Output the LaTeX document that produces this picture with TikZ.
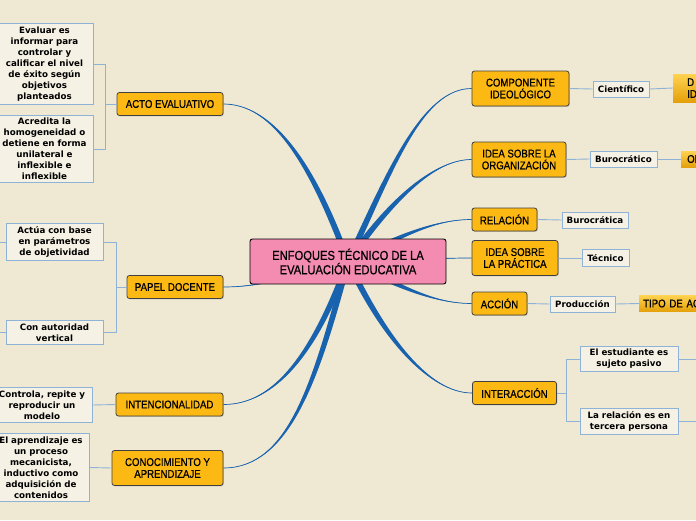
\documentclass[tikz,border=0pt]{standalone}
\usepackage{fontspec}
\setmainfont{DejaVu Sans}
\newfontfamily\headfont[FakeStretch=0.86,FakeBold=0.6]{Liberation Sans}
\usetikzlibrary{calc,shadows,backgrounds}

\definecolor{paper}{RGB}{239,233,212}
\definecolor{rootpink}{RGB}{244,139,176}
\definecolor{topicgold}{RGB}{253,185,19}
\definecolor{branchblue}{RGB}{24,98,174}
\definecolor{leafline}{RGB}{143,179,214}
\definecolor{leaffill}{RGB}{245,241,228}
\definecolor{subtop}{RGB}{255,210,80}
\definecolor{subbottom}{RGB}{228,160,10}

% tapered main branch: from, to, out, in, out looseness, in looseness
\newcommand\branch[6]{%
  \fill[branchblue] ($(#1)+({#3+90}:3)$) to[out=#3,in=#4,out looseness=#5,in looseness=#6] (#2)
    to[out=#4,in=#3,out looseness=#6,in looseness=#5] ($(#1)+({#3-90}:3)$) -- cycle;
  \draw[branchblue,line width=0.7] (#1) to[out=#3,in=#4,out looseness=#5,in looseness=#6] (#2);}

\tikzset{
  root/.style={draw=black, line width=0.9, fill=rootpink, rounded corners=2.5,
    minimum width=196, minimum height=45, align=center,
    font=\headfont\fontsize{13}{14.3}\selectfont},
  topic/.style={draw=black!75, line width=0.8, fill=topicgold, rounded corners=2.5,
    minimum height=23, inner xsep=3, inner ysep=2, align=center,
    font=\headfont\fontsize{11.2}{11.8}\selectfont,
    drop shadow={shadow xshift=0.8pt, shadow yshift=-0.8pt, opacity=0.35}},
  leaf/.style={draw=leafline, line width=0.9, fill=leaffill, inner xsep=2, inner ysep=3,
    align=center, font=\bfseries\fontsize{8.7}{11}\selectfont},
  sub/.style={top color=subtop, bottom color=subbottom, anchor=west, align=left,
    font=\headfont\fontsize{11.2}{11.8}\selectfont,
    drop shadow={shadow xshift=0.8pt, shadow yshift=-0.8pt, opacity=0.25}},
  link/.style={draw=leafline, line width=0.9},
}

\begin{document}
\begin{tikzpicture}[x=1pt,y=1pt]
  \useasboundingbox (0,0) rectangle (696,-520);

  % center and topics
  \node[root] (root) at (348,-261.5) {ENFOQUES TÉCNICO DE LA\\EVALUACIÓN EDUCATIVA};

  \node[topic, minimum width=106] (acto) at (170,-104) {ACTO EVALUATIVO};
  \node[topic, minimum width=96] (papel) at (175,-287) {PAPEL DOCENTE};
  \node[topic, minimum width=107] (intencion) at (169.5,-404.5) {INTENCIONALIDAD};
  \node[topic, minimum width=111, minimum height=35] (conocim) at (167.5,-468) {CONOCIMIENTO Y\\APRENDIZAJE};

  \node[topic, minimum width=97, minimum height=35] (compon) at (520.5,-88.5) {COMPONENTE\\IDEOLÓGICO};
  \node[topic, minimum width=94, minimum height=35] (organiz) at (519,-159.5) {IDEA SOBRE LA\\ORGANIZACIÓN};
  \node[topic, minimum width=65] (relacion) at (504.5,-219.5) {RELACIÓN};
  \node[topic, minimum width=86, minimum height=35] (practica) at (515,-258) {IDEA SOBRE\\LA PRÁCTICA};
  \node[topic, minimum width=55] (accion) at (499.5,-303.5) {ACCIÓN};
  \node[topic, minimum width=84] (interac) at (514.5,-393) {INTERACCIÓN};

  % leaves, left side
  \node[leaf, text width=93] (evaluar) at (44.5,-64) {Evaluar es\\informar para\\controlar y\\calificar el nivel\\de éxito según\\objetivos\\planteados};
  \node[leaf, text width=93] (acredita) at (44.5,-149) {Acredita la\\homogeneidad o\\detiene en forma\\unilateral e\\inflexible e\\inflexible};
  \node[leaf, text width=93] (actua) at (54.5,-242) {Actúa con base\\en parámetros\\de objetividad};
  \node[leaf, text width=93] (autoridad) at (54.5,-332.5) {Con autoridad\\vertical};
  \node[leaf, text width=96] (controla) at (42,-405) {Controla, repite y\\reproducir un\\modelo};
  \node[leaf, text width=92] (aprende) at (41,-467.5) {El aprendizaje es\\un proceso\\mecanicista,\\inductivo como\\adquisición de\\contenidos};

  % leaves, right side
  \node[leaf, minimum width=56, minimum height=16, inner ysep=1] (cientif) at (621,-89) {Científico};
  \node[leaf, minimum width=67, minimum height=16, inner ysep=1] (burocm) at (623.5,-159) {Burocrático};
  \node[leaf, minimum width=66, minimum height=16, inner ysep=1] (burocf) at (595,-220) {Burocrática};
  \node[leaf, minimum width=47, minimum height=17, inner ysep=1] (tecnico) at (605.5,-258) {Técnico};
  \node[leaf, minimum width=65, minimum height=16, inner ysep=1] (produc) at (582.5,-304) {Producción};
  \node[leaf, text width=94] (estudia) at (629,-359) {El estudiante es\\sujeto pasivo};
  \node[leaf, text width=94] (tercera) at (629,-421.5) {La relación es en\\tercera persona};

  % third level, cut by the page edge
  \node[sub, text width=60, minimum height=28, inner xsep=14] (defid) at (673,-88) {D\\ID};
  \node[sub, text width=60, minimum height=16, inner xsep=6, inner ysep=1] (orbox) at (681,-159) {OR};
  \node[sub, text width=80, minimum height=16, inner xsep=4, inner ysep=1] (tipo) at (639,-303.5) {TIPO DE AC};

  % thin links
  \draw[link] (acto.west) -- ++(-11,0) |- (evaluar.east);
  \draw[link] (acto.west) -- ++(-11,0) |- (acredita.east);
  \draw[link] (papel.west) -- ++(-10,0) |- (actua.east);
  \draw[link] (papel.west) -- ++(-10,0) |- (autoridad.east);
  \draw[link] (actua.west) -- ++(-8,0);
  \draw[link] (autoridad.west) -- ++(-8,0);
  \draw[link] (intencion.west) -- (controla.east);
  \draw[link] (conocim.west) -- (aprende.east);

  \draw[link] (compon.east) -- (cientif.west);
  \draw[link] (cientif.east) -- (defid.west);
  \draw[link] (organiz.east) -- (burocm.west);
  \draw[link] (burocm.east) -- (orbox.west);
  \draw[link] (relacion.east) -- (burocf.west);
  \draw[link] (practica.east) -- (tecnico.west);
  \draw[link] (accion.east) -- (produc.west);
  \draw[link] (produc.east) -- (tipo.west);
  \draw[link] (interac.east) -- ++(10,0) |- (estudia.west);
  \draw[link] (interac.east) -- ++(10,0) |- (tercera.west);
  \draw[link] (estudia.east) -- ++(20,0);
  \draw[link] (tercera.east) -- ++(20,0);

  % main branches under the nodes
  \begin{scope}[on background layer]
    \fill[paper] (0,0) rectangle (696,-520);
    \branch{root.center}{acto.east}{110}{0}{1.4}{0.6}
    \branch{root.center}{papel.east}{190}{0}{1}{1}
    \branch{root.center}{intencion.east}{-110}{0}{1.3}{0.7}
    \branch{root.center}{conocim.east}{-105}{0}{1.3}{0.7}
    \branch{root.center}{compon.west}{65}{180}{1.2}{0.6}
    \branch{root.center}{organiz.west}{55}{180}{1.2}{0.6}
    \branch{root.center}{relacion.west}{25}{180}{1}{0.8}
    \branch{root.center}{practica.west}{0}{180}{1}{1}
    \branch{root.center}{accion.west}{-25}{180}{1}{0.8}
    \branch{root.center}{interac.west}{-65}{180}{1.2}{0.6}
  \end{scope}
\end{tikzpicture}
\end{document}
